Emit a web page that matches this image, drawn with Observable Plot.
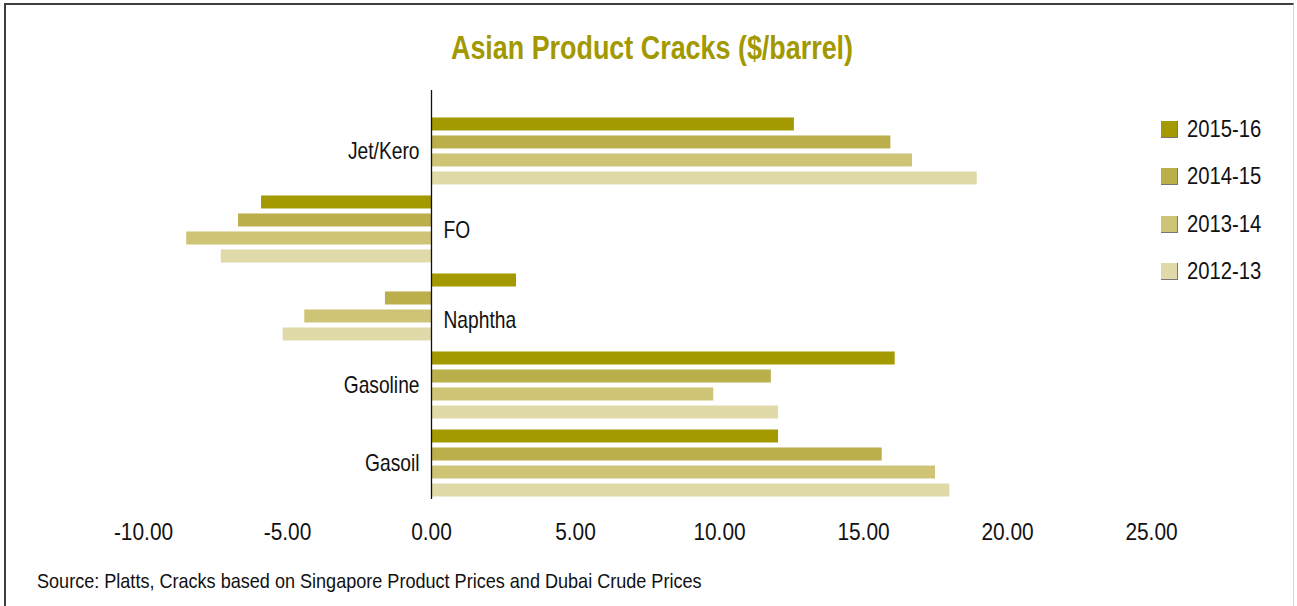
<!DOCTYPE html>
<html>
<head>
<meta charset="utf-8">
<script src="https://cdn.jsdelivr.net/npm/d3@7"></script>
<script src="https://cdn.jsdelivr.net/npm/@observablehq/plot@0.6"></script>
<style>
  html, body { margin: 0; padding: 0; background: #fff; }
  body { width: 1297px; height: 606px; overflow: hidden; font-family: "Liberation Sans", Arial, sans-serif; }
  #wrap { position: relative; width: 1297px; height: 606px; }
  #frame { position: absolute; left: 4px; top: 3px; width: 1290px; height: 610px; border-top: 2px solid #3f3f3f; border-left: 2px solid #3f3f3f; border-right: 1px solid #d6d6d6; box-sizing: border-box; }
  #title { position: absolute; left: 0; width: 1304px; top: 31px; text-align: center; font-size: 33px; font-weight: bold; line-height: 1; color: #a29800; transform: scaleX(0.815); transform-origin: 652px 0; white-space: nowrap; }
  #chart { position: absolute; left: 0; top: 0; }
  #legend { position: absolute; left: 1161px; top: 0; }
  .item { position: absolute; left: 0; white-space: nowrap; }
  .sw { position: absolute; left: 0; width: 17px; height: 17px; box-sizing: border-box; border-right: 1px solid #777; border-bottom: 1px solid #777; }
  .lab { position: absolute; left: 26px; font-size: 23px; line-height: 1; color: #111; transform: scaleX(0.88); transform-origin: 0 0; }
  #caption { position: absolute; left: 37px; top: 570px; font-size: 21px; line-height: 1; color: #111; white-space: nowrap; transform: scaleX(0.86); transform-origin: 0 0; }
</style>
</head>
<body>
<div id="wrap">
  <div id="frame"></div>
  <div id="title">Asian Product Cracks ($/barrel)</div>
  <div id="chart"></div>
  <div id="legend"></div>
  <div id="caption">Source: Platts, Cracks based on Singapore Product Prices and Dubai Crude Prices</div>
</div>
<script>
const categories = ["Jet/Kero", "FO", "Naphtha", "Gasoline", "Gasoil"];
const seriesNames = ["2015-16", "2014-15", "2013-14", "2012-13"];
const v2015_16 = [12.6, -5.9, 2.95, 16.1, 12.05];
const v2014_15 = [15.95, -6.7, -1.6, 11.8, 15.65];
const v2013_14 = [16.7, -8.5, -4.4, 9.8, 17.5];
const v2012_13 = [18.95, -7.3, -5.15, 12.05, 18.0];
const xTicks = [-10, -5, 0, 5, 10, 15, 20, 25];
const rightLabelled = ["FO"];
const lowerRightLabelled = ["Naphtha"];

const colors = ["#a39900", "#bbaf4c", "#cfc476", "#e0daa9"];
const seriesValues = [v2015_16, v2014_15, v2013_14, v2012_13];

const rows = [];
seriesNames.forEach((s, k) => {
  categories.forEach((c, i) => rows.push({category: c, series: s, value: seriesValues[k][i]}));
});

// bar geometry inside each category band (band = 72px)
const slot = 18, barH = 13, first = 2.5, bandW = 72;
const barMarks = seriesNames.map((s, k) => Plot.barX(rows.filter(r => r.series === s), {
  x: "value", y: "category", fill: colors[k],
  insetTop: first + slot * k,
  insetBottom: bandW - (first + slot * k + barH)
}));

const leftLabels = categories.filter(c => !rightLabelled.includes(c) && !lowerRightLabelled.includes(c));

const chart = Plot.plot({
  width: 1297,
  height: 606,
  marginTop: 90,
  marginBottom: 107,
  marginLeft: 143,
  marginRight: 146,
  style: {fontFamily: '"Liberation Sans", Arial, sans-serif', background: "transparent", overflow: "visible"},
  x: {domain: [-10, 25], axis: null, label: null},
  y: {type: "band", domain: categories, paddingInner: 0.077, paddingOuter: 0.16, align: 1, round: false, axis: null, label: null},
  marks: [
    ...barMarks,
    Plot.ruleX([0], {stroke: "#111", strokeWidth: 1.3}),
    Plot.axisX({ticks: xTicks, tickFormat: d => d.toFixed(2), tickSize: 0, tickPadding: 23, fontSize: 24, color: "#111", anchor: "bottom", label: null}),
    Plot.text(leftLabels, {x: 0, y: d => d, text: d => d, textAnchor: "end", dx: -12, fontSize: 24, fill: "#111"}),
    Plot.text(rightLabelled, {x: 0, y: d => d, text: d => d, textAnchor: "start", dx: 12, dy: 1, fontSize: 24, fill: "#111"}),
    Plot.text(lowerRightLabelled, {x: 0, y: d => d, text: d => d, textAnchor: "start", dx: 12, dy: 13, fontSize: 24, fill: "#111"})
  ]
});
document.getElementById("chart").appendChild(chart);

// condense SVG text horizontally (reference uses a condensed face)
chart.querySelectorAll("text").forEach(t => {
  const w = t.getComputedTextLength();
  if (w > 0) {
    const isTick = t.closest('[aria-label^="x-axis"]') !== null;
    const f = isTick ? 0.87 : 0.8;
    t.setAttribute("textLength", (w * f).toFixed(2));
    t.setAttribute("lengthAdjust", "spacingAndGlyphs");
  }
});

const legend = document.getElementById("legend");
seriesNames.forEach((s, k) => {
  const it = document.createElement("div");
  it.className = "item";
  it.style.top = (121 + k * 47.3) + "px";
  const sw = document.createElement("div");
  sw.className = "sw";
  sw.style.background = colors[k];
  const lab = document.createElement("div");
  lab.className = "lab";
  lab.style.top = "-3px";
  lab.textContent = s;
  it.appendChild(sw); it.appendChild(lab);
  legend.appendChild(it);
});
</script>
</body>
</html>
